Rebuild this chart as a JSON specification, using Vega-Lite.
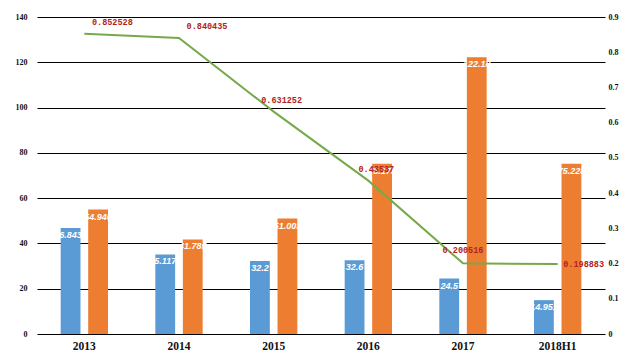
{
  "$schema": "https://vega.github.io/schema/vega-lite/v6.json",
  "width": 568,
  "height": 317,
  "autosize": {"type": "none"},
  "padding": {"left": 37, "top": 17, "right": 35, "bottom": 23},
  "background": "white",
  "config": {
    "view": {"stroke": null},
    "axis": {"labelFont": "Liberation Serif", "labelFontWeight": "bold", "labelColor": "#111", "domain": false, "ticks": false, "title": null}
  },
  "datasets": {
    "bars": [
      {"year": "2013", "series": "s1", "value": 46.8437},
      {"year": "2013", "series": "s2", "value": 54.946},
      {"year": "2014", "series": "s1", "value": 35.1178},
      {"year": "2014", "series": "s2", "value": 41.785},
      {"year": "2015", "series": "s1", "value": 32.2},
      {"year": "2015", "series": "s2", "value": 51.003},
      {"year": "2016", "series": "s1", "value": 32.6},
      {"year": "2016", "series": "s2", "value": 75.176},
      {"year": "2017", "series": "s1", "value": 24.5},
      {"year": "2017", "series": "s2", "value": 122.18},
      {"year": "2018H1", "series": "s1", "value": 14.951},
      {"year": "2018H1", "series": "s2", "value": 75.228}
    ],
    "rate": [
      {"year": "2013", "rate": 0.852528},
      {"year": "2014", "rate": 0.840435},
      {"year": "2015", "rate": 0.631252},
      {"year": "2016", "rate": 0.43537},
      {"year": "2017", "rate": 0.200516},
      {"year": "2018H1", "rate": 0.198883}
    ]
  },
  "encoding": {
    "x": {
      "field": "year", "type": "nominal", "sort": null,
      "scale": {"paddingInner": 0.5, "paddingOuter": 0.25},
      "axis": {"labelAngle": 0, "labelFontSize": 11.5, "labelPadding": 6, "grid": false}
    }
  },
  "layer": [
    {
      "data": {"name": "bars"},
      "encoding": {
        "y": {
          "field": "value", "type": "quantitative",
          "scale": {"domain": [0, 140], "nice": false},
          "axis": {"orient": "left", "values": [0, 20, 40, 60, 80, 100, 120, 140], "grid": true, "gridColor": "#000", "gridOpacity": 1, "gridWidth": 1.2, "labelFontSize": 8, "labelPadding": 10}
        },
        "xOffset": {"field": "series", "type": "nominal", "scale": {"paddingInner": 0.28}},
        "color": {"field": "series", "type": "nominal", "scale": {"domain": ["s1", "s2"], "range": ["#5b9bd5", "#ed7d31"]}, "legend": null}
      },
      "layer": [
        {"mark": {"type": "bar"}},
        {"mark": {"type": "text", "baseline": "top", "dy": 3, "fontSize": 9, "fontStyle": "italic", "fontWeight": "bold", "font": "Liberation Sans", "color": "white"},
         "encoding": {"text": {"field": "value", "type": "quantitative"}, "color": {"value": "white"}}}
      ]
    },
    {
      "data": {"name": "rate"},
      "encoding": {
        "y": {
          "field": "rate", "type": "quantitative",
          "scale": {"domain": [0, 0.9], "nice": false},
          "axis": {"orient": "right", "values": [0, 0.1, 0.2, 0.3, 0.4, 0.5, 0.6, 0.7, 0.8, 0.9], "labelExpr": "datum.value == 0 ? '0' : datum.label", "grid": false, "labelFontSize": 8, "labelPadding": 3}
        },
        "text": {"field": "rate", "type": "quantitative"}
      },
      "layer": [
        {"mark": {"type": "line", "color": "#76a94a", "strokeWidth": 2}},
        {"transform": [{"filter": "datum.year == '2013' || datum.year == '2014'"}],
         "mark": {"type": "text", "dx": 28, "dy": -12, "fontSize": 8.5, "fontWeight": "bold", "font": "Liberation Mono", "color": "#b22222"}},
        {"transform": [{"filter": "datum.year == '2015' || datum.year == '2016'"}],
         "mark": {"type": "text", "dx": 8, "dy": -12, "fontSize": 8.5, "fontWeight": "bold", "font": "Liberation Mono", "color": "#b22222"}},
        {"transform": [{"filter": "datum.year == '2017'"}],
         "mark": {"type": "text", "dx": 0, "dy": -13, "fontSize": 8.5, "fontWeight": "bold", "font": "Liberation Mono", "color": "#b22222"}},
        {"transform": [{"filter": "datum.year == '2018H1'"}],
         "mark": {"type": "text", "dx": 26, "dy": 0, "fontSize": 8.5, "fontWeight": "bold", "font": "Liberation Mono", "color": "#b22222"}}
      ]
    }
  ],
  "resolve": {"scale": {"y": "independent", "color": "independent"}}
}
